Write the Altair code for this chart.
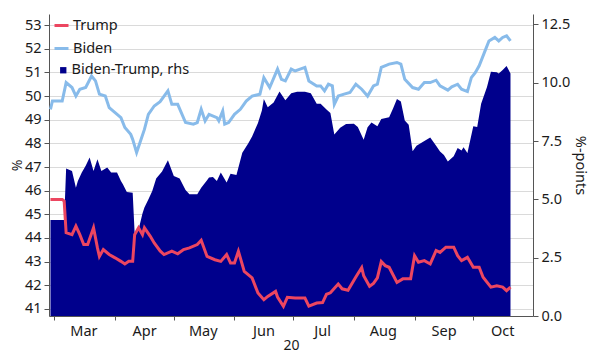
import altair as alt
import pandas as pd

# ---- data ----
biden_dates = ["2020-02-28","2020-02-29","2020-03-05","2020-03-07","2020-03-10","2020-03-12","2020-03-14","2020-03-17",
               "2020-03-20","2020-03-22","2020-03-24","2020-03-27","2020-03-29","2020-04-01","2020-04-04","2020-04-06",
               "2020-04-09","2020-04-10","2020-04-12","2020-04-14","2020-04-16","2020-04-18","2020-04-21","2020-04-24",
               "2020-04-28","2020-04-30","2020-05-03","2020-05-07","2020-05-11","2020-05-13","2020-05-15","2020-05-17",
               "2020-05-19","2020-05-23","2020-05-24","2020-05-26","2020-05-27","2020-05-29","2020-06-01","2020-06-04",
               "2020-06-07","2020-06-10","2020-06-14","2020-06-16","2020-06-19","2020-06-23","2020-06-25","2020-06-27",
               "2020-06-30","2020-07-02","2020-07-07","2020-07-09","2020-07-13","2020-07-15","2020-07-17","2020-07-19",
               "2020-07-21","2020-07-22","2020-07-24","2020-07-27","2020-07-30","2020-08-02","2020-08-05","2020-08-08",
               "2020-08-11","2020-08-13","2020-08-15","2020-08-19","2020-08-23","2020-08-25","2020-08-27","2020-08-31",
               "2020-09-03","2020-09-06","2020-09-09","2020-09-12","2020-09-14","2020-09-18","2020-09-20","2020-09-23",
               "2020-09-25","2020-09-28","2020-09-30","2020-10-02","2020-10-04","2020-10-07","2020-10-09","2020-10-12",
               "2020-10-14","2020-10-16","2020-10-18","2020-10-20"]
biden_values = [49.44,49.79,49.79,50.57,50.36,50.00,50.29,50.36,
                50.85,50.64,50.08,50.00,49.51,49.30,49.09,48.67,
                48.38,48.17,47.61,48.10,48.59,49.23,49.58,49.76,
                50.22,49.65,49.65,48.88,48.81,48.88,49.44,48.95,
                49.23,49.09,48.95,49.37,48.81,48.88,49.23,49.44,
                49.79,50.00,50.08,50.78,50.36,51.14,50.71,50.64,
                51.14,51.06,51.21,50.64,50.43,50.43,50.22,50.50,
                50.43,49.65,50.00,50.08,50.15,50.50,50.29,50.00,
                50.43,50.50,51.21,51.35,51.42,51.35,50.71,50.36,
                50.29,50.57,50.57,50.67,50.43,50.25,50.39,50.50,
                50.29,50.19,50.78,50.99,51.28,51.91,52.33,52.48,
                52.33,52.48,52.55,52.33]

trump_dates = ["2020-02-28","2020-03-05","2020-03-06","2020-03-07","2020-03-10","2020-03-12","2020-03-14","2020-03-16",
               "2020-03-18","2020-03-21","2020-03-23","2020-03-24","2020-03-26","2020-03-29","2020-04-01","2020-04-04",
               "2020-04-06","2020-04-08","2020-04-10","2020-04-11","2020-04-13","2020-04-15","2020-04-16","2020-04-19",
               "2020-04-21","2020-04-24","2020-04-26","2020-04-30","2020-05-03","2020-05-06","2020-05-09","2020-05-13",
               "2020-05-15","2020-05-18","2020-05-22","2020-05-25","2020-05-28","2020-05-30","2020-06-01","2020-06-03",
               "2020-06-06","2020-06-10","2020-06-13","2020-06-16","2020-06-18","2020-06-22","2020-06-23","2020-06-26",
               "2020-06-28","2020-07-02","2020-07-07","2020-07-09","2020-07-13","2020-07-16","2020-07-18","2020-07-20",
               "2020-07-24","2020-07-26","2020-07-29","2020-08-02","2020-08-05","2020-08-06","2020-08-09","2020-08-11",
               "2020-08-13","2020-08-15","2020-08-17","2020-08-19","2020-08-23","2020-08-26","2020-08-30","2020-09-01",
               "2020-09-03","2020-09-06","2020-09-09","2020-09-12","2020-09-14","2020-09-17","2020-09-21","2020-09-23",
               "2020-09-25","2020-09-28","2020-10-01","2020-10-04","2020-10-06","2020-10-10","2020-10-13","2020-10-16",
               "2020-10-18","2020-10-20"]
trump_values = [45.63,45.63,45.56,44.22,44.14,44.50,44.14,43.72,
                43.72,44.43,43.58,43.22,43.51,43.30,43.16,43.01,
                42.90,43.01,43.01,44.14,44.43,44.14,44.43,44.07,
                43.79,43.45,43.30,43.44,43.33,43.51,43.58,43.72,
                43.90,43.22,43.08,43.01,43.30,42.94,42.94,43.44,
                42.59,42.31,41.67,41.39,41.53,41.74,41.50,41.11,
                41.49,41.46,41.46,41.12,41.25,41.27,41.62,41.68,
                42.05,41.85,41.79,42.35,42.75,42.40,41.96,42.08,
                42.31,43.00,42.83,42.76,42.12,42.27,42.27,43.25,
                42.97,43.04,42.90,43.47,43.39,43.61,43.61,43.25,
                43.04,43.18,42.76,42.76,42.34,41.92,41.98,41.92,
                41.77,41.92]

spread_dates = ["2020-02-28","2020-03-06","2020-03-07","2020-03-10","2020-03-12","2020-03-13","2020-03-15","2020-03-17",
                "2020-03-19","2020-03-21","2020-03-23","2020-03-25","2020-03-28","2020-03-30","2020-04-02","2020-04-04",
                "2020-04-05","2020-04-07","2020-04-10","2020-04-11","2020-04-13","2020-04-15","2020-04-16","2020-04-18",
                "2020-04-20","2020-04-22","2020-04-25","2020-04-28","2020-05-01","2020-05-04","2020-05-07","2020-05-09",
                "2020-05-13","2020-05-15","2020-05-18","2020-05-19","2020-05-21","2020-05-23","2020-05-25","2020-05-28",
                "2020-05-30","2020-06-02","2020-06-05","2020-06-08","2020-06-10","2020-06-13","2020-06-15","2020-06-16",
                "2020-06-18","2020-06-21","2020-06-24","2020-06-27","2020-06-30","2020-07-03","2020-07-07","2020-07-10",
                "2020-07-13","2020-07-15","2020-07-18","2020-07-20","2020-07-22","2020-07-25","2020-07-28","2020-08-01",
                "2020-08-03","2020-08-06","2020-08-08","2020-08-10","2020-08-13","2020-08-15","2020-08-19","2020-08-21",
                "2020-08-23","2020-08-25","2020-08-27","2020-08-29","2020-08-31","2020-09-02","2020-09-06","2020-09-09",
                "2020-09-12","2020-09-14","2020-09-16","2020-09-18","2020-09-21","2020-09-23","2020-09-25","2020-09-26",
                "2020-09-28","2020-10-01","2020-10-03","2020-10-05","2020-10-08","2020-10-10","2020-10-13","2020-10-14",
                "2020-10-16","2020-10-18","2020-10-20"]
spread_values = [4.12,4.12,6.33,6.22,5.50,5.79,6.15,6.44,
                 6.80,6.22,6.72,6.22,6.37,6.15,6.15,5.79,
                 5.65,5.32,5.28,3.55,3.70,4.40,4.65,5.00,
                 5.36,5.90,6.20,6.68,6.00,5.90,5.40,5.22,
                 5.22,5.50,5.82,5.94,5.96,5.79,6.15,5.72,
                 6.10,6.05,7.00,7.40,7.70,8.28,8.81,9.30,
                 8.95,9.15,9.63,9.25,9.55,9.62,9.62,9.55,
                 9.10,9.10,8.86,8.70,7.78,8.07,8.23,8.24,
                 8.10,7.56,8.09,8.30,8.14,8.45,8.52,8.90,
                 9.30,9.20,8.38,8.20,7.06,7.30,7.50,7.65,
                 7.30,7.05,6.90,6.63,6.85,7.20,7.10,7.24,
                 6.99,8.14,8.10,9.10,9.82,10.47,10.45,10.40,
                 10.55,10.72,10.40]

line_names = ["Trump", "Biden"]
line_colors = ["#EC4660", "#88BBEA"]
area_name = "Biden-Trump, rhs"
area_color = "#00008C"

lines_df = pd.concat([
    pd.DataFrame({"date": trump_dates, "value": trump_values, "series": "Trump"}),
    pd.DataFrame({"date": biden_dates, "value": biden_values, "series": "Biden"}),
])
area_df = pd.DataFrame({"date": spread_dates, "value": spread_values, "series": area_name})

FONT = "Noto Sans"
month_starts = [alt.DateTime(year=2020, month=m, date=1, utc=True) for m in range(3, 11)]
x_scale = alt.Scale(type="utc",
                    domain=[alt.DateTime(year=2020, month=2, date=27, hours=6, utc=True),
                            alt.DateTime(year=2020, month=10, date=31, hours=12, utc=True)])

x_enc = alt.X("date:T", scale=x_scale,
              axis=alt.Axis(values=month_starts, labelExpr="utcFormat(datum.value, '%b')",
                            labelOffset=29, labelAlign="center", title="20", titlePadding=1,
                            titleFontSize=14, tickSize=4, labelPadding=4, grid=False, zindex=1))

area = alt.Chart(area_df).mark_area(color=area_color, interpolate="linear").encode(
    x=x_enc,
    y=alt.Y("value:Q", scale=alt.Scale(domain=[0, 12.95], nice=False, zero=True),
            axis=alt.Axis(orient="right", values=[0, 2.5, 5, 7.5, 10, 12.5], format=".1f",
                          title="%-points", grid=False, tickSize=5, labelPadding=3,
                          titlePadding=3, titleFontSize=14.5, zindex=1)),
    fill=alt.Fill("series:N", scale=alt.Scale(domain=[area_name], range=[area_color]),
                  legend=alt.Legend(title=None, orient="none", legendX=5, legendY=49,
                                    symbolType="square", symbolSize=40, labelFontSize=14.5,
                                    labelFont=FONT, labelOffset=1, padding=0, symbolOffset=2)),
)

lines = alt.Chart(lines_df).mark_line(strokeWidth=3, interpolate="linear").encode(
    x=x_enc,
    y=alt.Y("value:Q", scale=alt.Scale(domain=[40.7, 53.47], nice=False, zero=False),
            axis=alt.Axis(orient="left", values=list(range(41, 54)), title="%",
                          grid=True, gridColor="#DADADA", tickSize=5, labelPadding=3,
                          titlePadding=0, titleFontSize=14)),
    color=alt.Color("series:N", scale=alt.Scale(domain=line_names, range=line_colors),
                    legend=alt.Legend(title=None, orient="none", legendX=4, legendY=3,
                                      symbolType="stroke", symbolSize=196, symbolStrokeWidth=3,
                                      labelFontSize=14.5, labelFont=FONT, labelOffset=3,
                                      rowPadding=8, padding=0)),
    detail="series:N",
)

chart = alt.layer(area, lines).resolve_scale(y="independent", color="independent", fill="independent").properties(
    width=484, height=302,
    autosize=alt.AutoSizeParams(type="none"),
    padding={"left": 41, "top": 6, "right": 62, "bottom": 40},
).configure_view(stroke=None).configure_axis(
    labelFont=FONT, titleFont=FONT, labelFontSize=14.5, titleFontSize=15,
    labelColor="#1a1a1a", titleColor="#1a1a1a", titleFontWeight="normal",
    domainColor="#555555", tickColor="#555555",
).configure_legend(labelColor="#1a1a1a")

chart.save("out.html", embed_options={"renderer": "svg", "actions": False})
